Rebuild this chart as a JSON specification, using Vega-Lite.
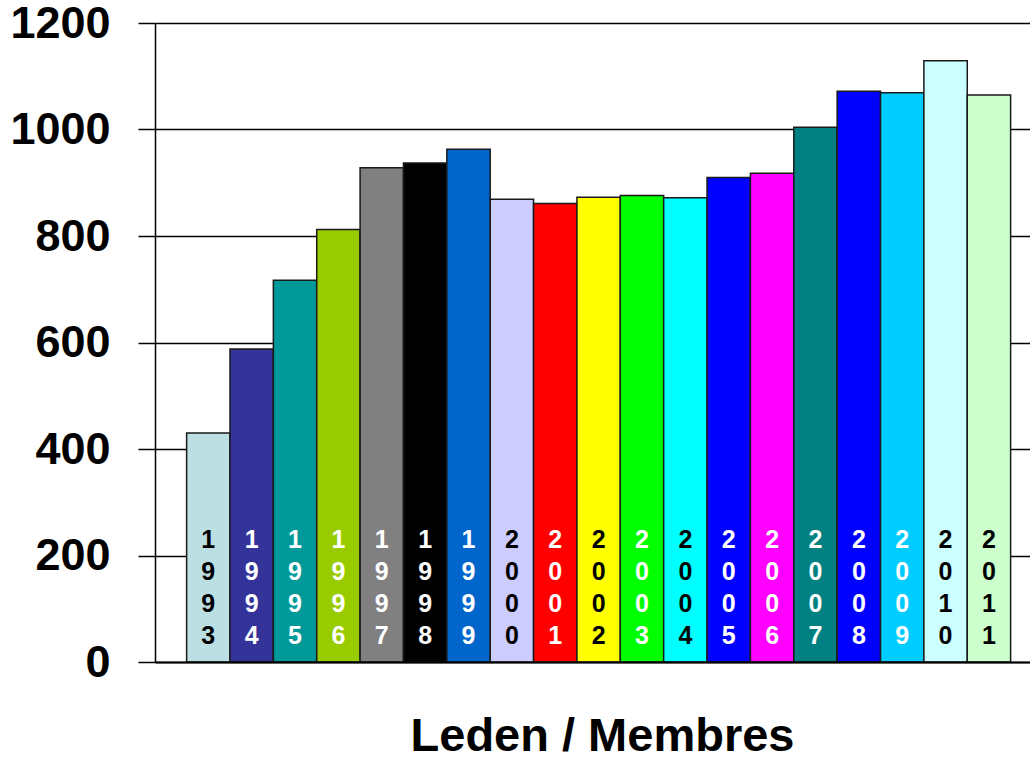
{
  "$schema": "https://vega.github.io/schema/vega-lite/v6.json",
  "autosize": "none",
  "width": 875,
  "height": 639,
  "padding": {"left": 155, "top": 23, "right": 0, "bottom": 96},
  "background": "white",
  "config": {
    "view": {"stroke": null},
    "font": "Liberation Sans"
  },
  "data": {
    "values": [
      {"year": "1993", "label": "1\n9\n9\n3", "members": 430},
      {"year": "1994", "label": "1\n9\n9\n4", "members": 588},
      {"year": "1995", "label": "1\n9\n9\n5", "members": 717},
      {"year": "1996", "label": "1\n9\n9\n6", "members": 812},
      {"year": "1997", "label": "1\n9\n9\n7", "members": 928},
      {"year": "1998", "label": "1\n9\n9\n8", "members": 937},
      {"year": "1999", "label": "1\n9\n9\n9", "members": 963},
      {"year": "2000", "label": "2\n0\n0\n0", "members": 869},
      {"year": "2001", "label": "2\n0\n0\n1", "members": 861},
      {"year": "2002", "label": "2\n0\n0\n2", "members": 873},
      {"year": "2003", "label": "2\n0\n0\n3", "members": 876},
      {"year": "2004", "label": "2\n0\n0\n4", "members": 872},
      {"year": "2005", "label": "2\n0\n0\n5", "members": 910},
      {"year": "2006", "label": "2\n0\n0\n6", "members": 918},
      {"year": "2007", "label": "2\n0\n0\n7", "members": 1004},
      {"year": "2008", "label": "2\n0\n0\n8", "members": 1072},
      {"year": "2009", "label": "2\n0\n0\n9", "members": 1069},
      {"year": "2010", "label": "2\n0\n1\n0", "members": 1129},
      {"year": "2011", "label": "2\n0\n1\n1", "members": 1065}
    ]
  },
  "encoding": {
    "x": {
      "field": "year",
      "type": "nominal",
      "sort": null,
      "scale": {"paddingInner": 0, "paddingOuter": 0.588, "align": 0.62},
      "axis": {
        "title": "Leden / Membres",
        "labels": false,
        "ticks": false,
        "domainColor": "black",
        "domainWidth": 2,
        "titleFontSize": 47,
        "titleFontWeight": "bold",
        "titleColor": "black",
        "titlePadding": 51,
        "titleX": 447,
        "titleFont": "Liberation Sans",
        "zindex": 1
      }
    }
  },
  "layer": [
    {
      "mark": {"type": "bar", "stroke": "#1a1a1a", "strokeWidth": 1.5, "opacity": 1},
      "encoding": {
        "y": {
          "field": "members",
          "type": "quantitative",
          "scale": {"domain": [0, 1200], "nice": false},
          "axis": {
            "title": null,
            "format": "d",
            "values": [0, 200, 400, 600, 800, 1000, 1200],
            "grid": true,
            "gridColor": "black",
            "gridWidth": 1.5,
            "gridOpacity": 1,
            "domainColor": "black",
            "domainWidth": 1.5,
            "tickColor": "black",
            "tickWidth": 1.5,
            "tickSize": 17,
            "labelPadding": 28,
            "labelFontSize": 45,
            "labelFontWeight": "bold",
            "labelColor": "black",
            "labelFont": "Liberation Sans",
            "labelBaseline": "middle"
          }
        },
        "color": {
          "field": "year",
          "type": "nominal",
          "legend": null,
          "scale": {
            "domain": ["1993","1994","1995","1996","1997","1998","1999","2000","2001","2002","2003","2004","2005","2006","2007","2008","2009","2010","2011"],
            "range": ["#BBDFE3","#333399","#009999","#99CC00","#808080","#000000","#0066CC","#CCCCFF","#FF0000","#FFFF00","#00FF00","#00FFFF","#0000FF","#FF00FF","#008080","#0000FF","#00CCFF","#CCFFFF","#CCFFCC"]
          }
        }
      }
    },
    {
      "mark": {
        "type": "text",
        "lineBreak": "\n",
        "fontSize": 25,
        "fontWeight": "bold",
        "font": "Liberation Sans",
        "lineHeight": 32,
        "baseline": "middle",
        "align": "center",
        "dy": -122
      },
      "encoding": {
        "y": {"datum": 0, "type": "quantitative"},
        "text": {"field": "label"},
        "color": {
          "field": "year",
          "type": "nominal",
          "legend": null,
          "scale": {
            "domain": ["1993","1994","1995","1996","1997","1998","1999","2000","2001","2002","2003","2004","2005","2006","2007","2008","2009","2010","2011"],
            "range": ["black","white","white","white","white","white","white","black","white","black","white","black","white","white","white","white","white","black","black"]
          }
        }
      }
    }
  ],
  "resolve": {"scale": {"color": "independent"}}
}
